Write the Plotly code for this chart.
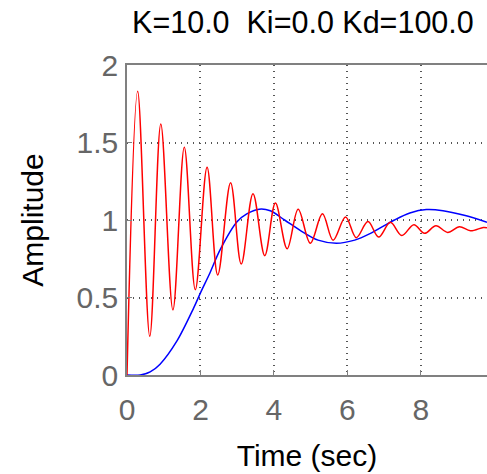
import plotly.graph_objects as go

# Blue response (smooth)
t_blue = [0, 0.36, 0.63, 0.9, 1.36, 1.81, 2.0, 2.26, 2.54, 3.0, 3.26, 3.6, 3.9, 4.29,
          4.8, 5.2, 5.7, 6.2, 6.6, 7.28, 7.7, 8.15, 8.6, 9.18, 9.8]
y_blue = [0, 0.0, 0.02, 0.07, 0.22, 0.43, 0.53, 0.66, 0.81, 0.99, 1.04, 1.07, 1.06, 1.0,
          0.92, 0.87, 0.85, 0.87, 0.91, 1.0, 1.045, 1.067, 1.06, 1.03, 0.985]

# Red response (oscillatory) - extrema
t_red = [0, 0.29, 0.62, 0.92, 1.25, 1.56, 1.86, 2.18, 2.47, 2.82, 3.11, 3.43, 3.75, 4.04,
         4.36, 4.66, 4.99, 5.32, 5.61, 5.95, 6.24, 6.56, 6.85, 7.17, 7.48, 7.81, 8.1,
         8.41, 8.73, 9.05, 9.35, 9.7, 9.8]
y_red = [0, 1.83, 0.25, 1.62, 0.42, 1.47, 0.55, 1.34, 0.645, 1.24, 0.716, 1.17, 0.77, 1.11,
         0.815, 1.07, 0.85, 1.04, 0.87, 1.02, 0.886, 0.99, 0.89, 0.985, 0.90, 0.97, 0.914,
         0.963, 0.92, 0.957, 0.93, 0.952, 0.95]

x_ticks = [0, 2, 4, 6, 8]
y_ticks = [0, 0.5, 1, 1.5, 2]
y_tick_labels = ["0", "0.5", "1", "1.5", "2"]

title_text = "K=10.0  Ki=0.0 Kd=100.0"

fig = go.Figure()
fig.add_trace(go.Scatter(x=t_blue, y=y_blue, mode="lines",
                         line=dict(color="#0000ff", width=1.5, shape="spline", smoothing=0.9),
                         showlegend=False))
fig.add_trace(go.Scatter(x=t_red, y=y_red, mode="lines",
                         line=dict(color="#ff0000", width=1.5, shape="spline", smoothing=1.0),
                         showlegend=False))

font = "Liberation Sans, Arial, sans-serif"
fig.update_layout(
    width=487, height=474,
    margin=dict(l=127, r=0, t=65, b=99, autoexpand=False),
    paper_bgcolor="white", plot_bgcolor="white",
    title=dict(text=title_text, x=0.622, xanchor="center", y=0.952, yanchor="middle",
               font=dict(family=font, size=30.5, color="black")),
    font=dict(family=font),
)
fig.update_xaxes(range=[0, 9.8], tickvals=x_ticks, ticktext=[str(v) for v in x_ticks],
                 automargin=False,
                 showline=True, linecolor="#808080", linewidth=1.5, mirror=True,
                 ticks="inside", ticklen=5, tickcolor="#808080",
                 showgrid=True, gridcolor="#555555", griddash="1px,5px", gridwidth=1.5,
                 zeroline=False, ticklabelstandoff=7,
                 tickfont=dict(family=font, size=30, color="#666666"),
                 title=dict(text="Time (sec)", font=dict(family=font, size=30, color="black"),
                            standoff=20))
fig.update_yaxes(range=[0, 2], tickvals=y_ticks, ticktext=y_tick_labels,
                 automargin=False,
                 showline=True, linecolor="#808080", linewidth=1.5, mirror=False,
                 ticks="inside", ticklen=5, tickcolor="#808080",
                 showgrid=True, gridcolor="#555555", griddash="1px,5px", gridwidth=1.5,
                 zeroline=False, ticklabelstandoff=1,
                 tickfont=dict(family=font, size=30, color="#666666"),
                 title=dict(text="Amplitude", font=dict(family=font, size=30, color="black"),
                            standoff=24))

fig.write_html("out.html", config={"displayModeBar": False},
               post_script="document.body.style.margin='0';")
